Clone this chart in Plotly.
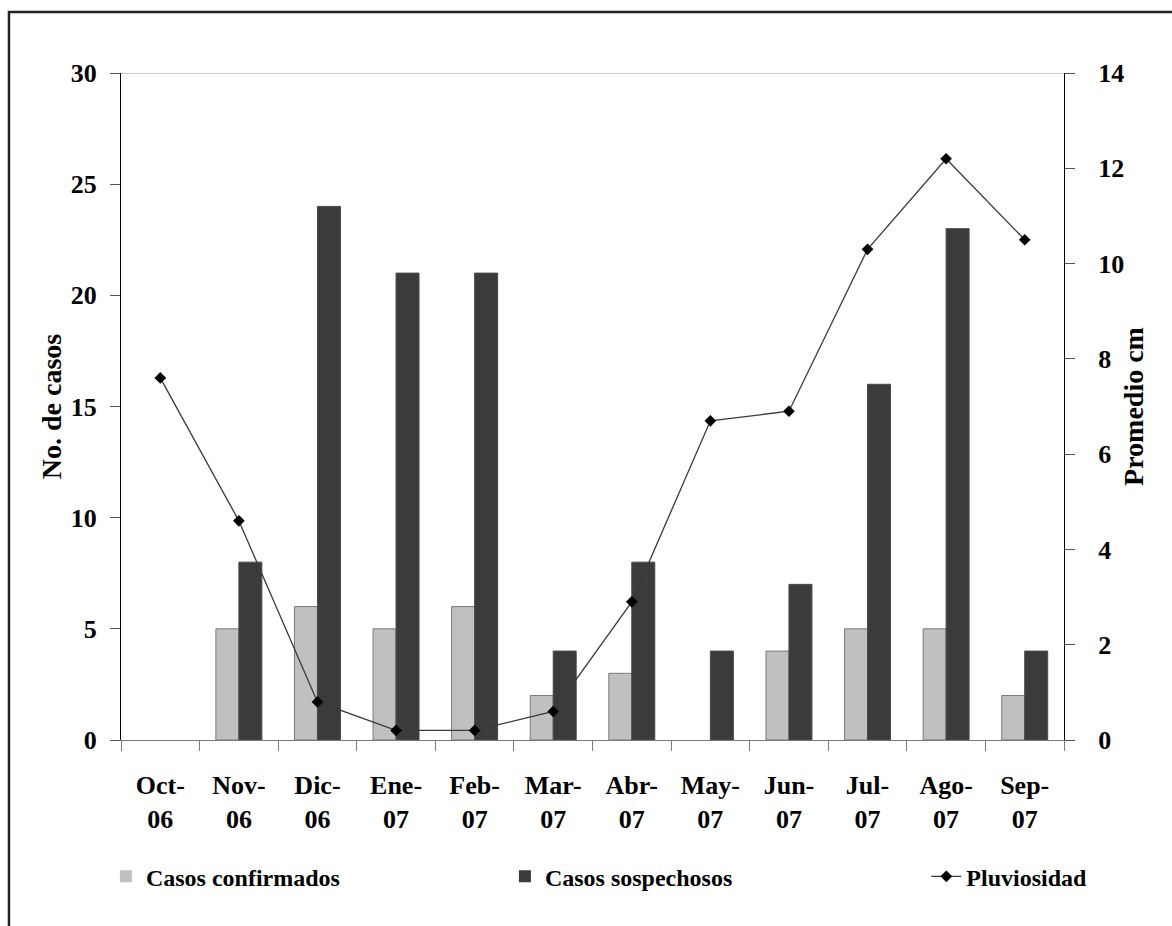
import plotly.graph_objects as go

# Monthly data, Oct 2006 - Sep 2007
meses = ["Oct-<br>06", "Nov-<br>06", "Dic-<br>06", "Ene-<br>07", "Feb-<br>07", "Mar-<br>07",
         "Abr-<br>07", "May-<br>07", "Jun-<br>07", "Jul-<br>07", "Ago-<br>07", "Sep-<br>07"]
casos_confirmados = [0, 5, 6, 5, 6, 2, 3, 0, 4, 5, 5, 2]
casos_sospechosos = [0, 8, 24, 21, 21, 4, 8, 4, 7, 16, 23, 4]
pluviosidad = [7.6, 4.6, 0.8, 0.2, 0.2, 0.6, 2.9, 6.7, 6.9, 10.3, 12.2, 10.5]

FONT = "Liberation Serif"
font_b = dict(family=FONT, size=26, color="black", weight="bold")
title_font = dict(family=FONT, size=28, color="black", weight="bold")
leg_font = dict(family=FONT, size=24, color="black", weight="bold")

fig = go.Figure()

# no outline on empty months
edge_conf = [1 if v else 0 for v in casos_confirmados]
edge_sosp = [1 if v else 0 for v in casos_sospechosos]

fig.add_trace(go.Bar(
    x=meses, y=casos_confirmados, name="Casos confirmados",
    marker=dict(color="#c0c0c0", line=dict(color="#7a7a7a", width=edge_conf)),
    xaxis="x", yaxis="y", legend="legend",
))
fig.add_trace(go.Bar(
    x=meses, y=casos_sospechosos, name="Casos sospechosos",
    marker=dict(color="#3b3b3b", line=dict(color="#4a4a4a", width=edge_sosp)),
    xaxis="x", yaxis="y", legend="legend",
))
fig.add_trace(go.Scatter(
    x=meses, y=pluviosidad, name="Pluviosidad",
    mode="lines+markers",
    line=dict(color="#3a3a3a", width=1.3),
    marker=dict(symbol="diamond", size=9, color="black"),
    xaxis="x", yaxis="y2", legend="legend2",
))

fig.update_layout(
    width=1172, height=926,
    margin=dict(l=121, r=108, t=73, b=186, autoexpand=False),
    paper_bgcolor="white", plot_bgcolor="white",
    barmode="group", bargap=0.415, bargroupgap=0,
    font=font_b,
    xaxis=dict(
        type="category", range=[-0.5, 11.5], tickson="boundaries",
        showline=True, linecolor="#7a7a7a", linewidth=1.2,
        ticks="outside", ticklen=10, tickcolor="#7a7a7a", tickwidth=1.2,
        tickfont=font_b, ticklabelstandoff=22, showgrid=False, zeroline=False,
    ),
    yaxis=dict(
        range=[0, 30], dtick=5, showline=True, linecolor="black", linewidth=1.2,
        ticks="outside", ticklen=10, tickcolor="#555", tickwidth=1.2,
        tickfont=font_b, ticklabelstandoff=8, showgrid=False, zeroline=False,
        title=dict(text="No. de casos", font=title_font, standoff=0),
        automargin=False,
    ),
    yaxis2=dict(
        range=[0, 14], dtick=2, overlaying="y", side="right", anchor="x",
        showline=True, linecolor="black", linewidth=1.2,
        ticks="outside", ticklen=10, tickcolor="#555", tickwidth=1.2,
        tickfont=font_b, ticklabelstandoff=18, showgrid=False, zeroline=False,
        title=dict(text="Promedio cm", font=title_font, standoff=0),
        automargin=False,
    ),
    legend=dict(
        orientation="h", x=-0.016, xanchor="left", y=-0.205, yanchor="middle",
        entrywidth=354, entrywidthmode="pixels",
        font=leg_font, bgcolor="rgba(0,0,0,0)", traceorder="normal",
    ),
    legend2=dict(
        orientation="h", x=0.854, xanchor="left", y=-0.205, yanchor="middle",
        font=leg_font, bgcolor="rgba(0,0,0,0)",
    ),
    shapes=[
        # top line of the plot area at 30
        dict(type="line", xref="paper", yref="y", x0=0, x1=1, y0=30, y1=30,
             line=dict(color="#9a9a9a", width=1.2)),
        # outer frame around the figure
        dict(type="rect", xref="paper", yref="paper", x0=-0.1188, x1=1.2, y0=-0.32, y1=1.0915,
             line=dict(color="#222", width=2.5), layer="above"),
    ],
)

fig.write_html("out.html")
